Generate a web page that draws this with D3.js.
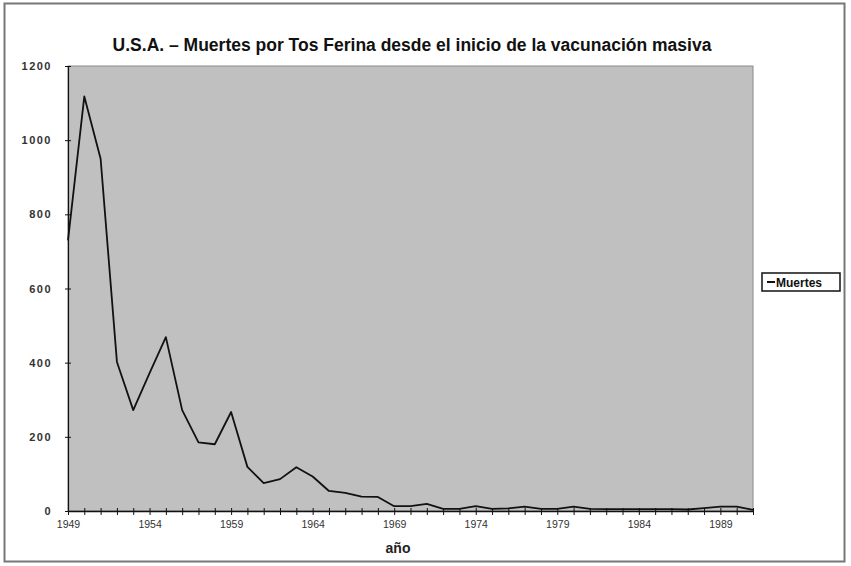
<!DOCTYPE html>
<html><head><meta charset="utf-8">
<script src="https://cdn.jsdelivr.net/npm/d3@7"></script>
<style>body{margin:0;background:#fff}svg{display:block}</style>
</head><body>
<svg id="c" width="851" height="566"></svg>
<script>
const years = d3.range(1949, 1992);
const deaths = [730,1118,950,402,272,372,469,272,185,180,267,119,75,86,118,93,54,49,39,38,13,13,19,6,6,13,6,7,12,6,6,12,6,5,5,5,5,5,4,8,12,12,3];
const yTicks = [0,200,400,600,800,1000,1200];
const xLabelYears = [1949,1954,1959,1964,1969,1974,1979,1984,1989];
const titleText = "U.S.A. \u2013 Muertes por Tos Ferina desde el inicio de la vacunación masiva";
const seriesName = "Muertes";
const xTitle = "año";

const svg = d3.select("#c");
const L = 68, R = 753, T = 66, B = 511;
const x = d3.scaleLinear().domain([1949, 1991]).range([L, R]);
const y = d3.scaleLinear().domain([0, 1200]).range([B, T]);

// outer frame
svg.append("rect").attr("x",4.5).attr("y",3.5).attr("width",840).attr("height",558)
  .attr("fill","#fff").attr("stroke","#777").attr("stroke-width",2);

// plot area
svg.append("rect").attr("x",L).attr("y",T).attr("width",R-L).attr("height",B-T)
  .attr("fill","#c0c0c0").attr("stroke","#8a8a8a").attr("stroke-width",1);

// title
svg.append("text").attr("x",412).attr("y",51).attr("text-anchor","middle")
  .attr("font-family","'Liberation Sans Narrow','Arial Narrow','Liberation Sans',sans-serif")
  .attr("font-weight","bold").attr("font-size",17.5).attr("fill","#111").text(titleText);

// y axis
const yAxis = d3.axisLeft(y).tickValues(yTicks).tickSize(4).tickPadding(12).tickSizeOuter(0)
  .tickFormat(d3.format("d"));
const gy = svg.append("g").attr("transform",`translate(${L},0)`).call(yAxis);
gy.selectAll(".tick line").attr("x2",-3).attr("x1",3).attr("stroke","#111");
gy.select(".domain").attr("stroke","#111").attr("stroke-width",1.2);
gy.selectAll("text").attr("font-family","'Liberation Sans',Arial,sans-serif")
  .attr("font-size",11).attr("font-weight","bold").attr("letter-spacing",1.5).attr("fill","#333");

// x axis
const xAxis = d3.axisBottom(x).tickValues(years).tickSize(4).tickSizeOuter(0)
  .tickFormat(d => xLabelYears.includes(d) ? d : "");
const gx = svg.append("g").attr("transform",`translate(0,${B})`).call(xAxis);
gx.selectAll(".tick line").attr("y1",-3).attr("y2",4).attr("stroke","#111");
gx.select(".domain").attr("stroke","#111").attr("stroke-width",1.5);
gx.selectAll("text").attr("y",10).attr("font-family","'Liberation Sans Narrow','Arial Narrow',sans-serif")
  .attr("font-size",10.5).attr("fill","#333");

// x title
svg.append("text").attr("x",398).attr("y",553).attr("text-anchor","middle")
  .attr("font-family","'Liberation Sans',Arial,sans-serif").attr("font-weight","bold")
  .attr("font-size",14).attr("fill","#222").text(xTitle);

// line
const line = d3.line().x((d,i)=>x(years[i])).y(d=>y(d));
svg.append("path").datum(deaths).attr("d",line).attr("fill","none")
  .attr("stroke","#111").attr("stroke-width",1.8).attr("stroke-linejoin","round");

// legend
const lg = svg.append("g");
lg.append("rect").attr("x",762).attr("y",273).attr("width",78).attr("height",18)
  .attr("fill","#fff").attr("stroke","#111").attr("stroke-width",1.5);
lg.append("line").attr("x1",767).attr("x2",775).attr("y1",282).attr("y2",282)
  .attr("stroke","#111").attr("stroke-width",2);
lg.append("text").attr("x",776).attr("y",286.5)
  .attr("font-family","'Liberation Sans',Arial,sans-serif").attr("font-weight","bold")
  .attr("font-size",12).attr("fill","#111").text(seriesName);
</script>
</body></html>
